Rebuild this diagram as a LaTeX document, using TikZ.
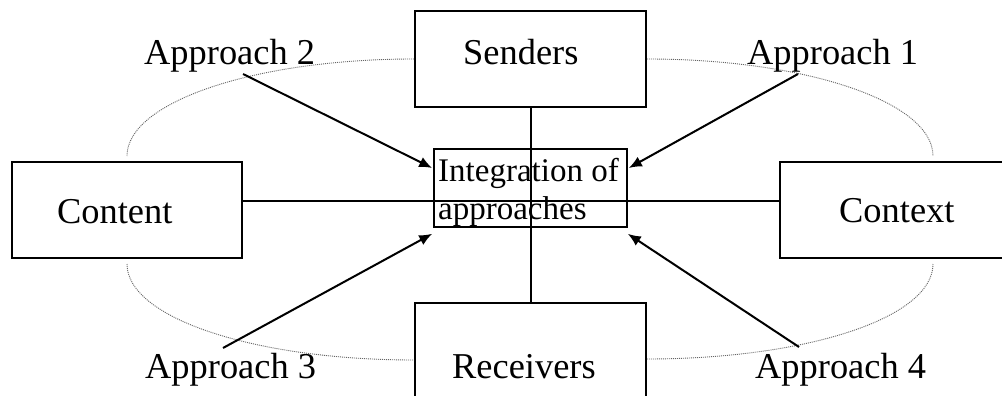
\documentclass[tikz,border=0pt]{standalone}
\usepackage{fontspec}
\setmainfont{Liberation Serif}
\usetikzlibrary{arrows.meta}
\begin{document}
\begin{tikzpicture}[x=1pt,y=-1pt,
  box/.style={draw=black, line width=2pt, fill=white, rectangle, inner sep=0pt},
  txt/.style={inner sep=0pt, anchor=base west, font=\fontsize{36.4}{40}\selectfont},
  itxt/.style={inner sep=0pt, anchor=base west, font=\fontsize{33}{38}\selectfont},
  orbit/.style={draw=black!60, line width=0.9pt, dash pattern=on 1pt off 1pt},
  link/.style={draw=black, line width=2pt},
  arr/.style={draw=black, line width=2pt, -{Latex[length=13pt,width=11pt]}}]
\useasboundingbox (0,0) rectangle (1002,396);
\clip (0,0) rectangle (1002,396);
% boxes
\node[box, minimum width=231pt, minimum height=96pt] (sen) at (530.5,59) {};
\node[box, minimum width=230pt, minimum height=96pt] (con) at (127,210) {};
\node[box, minimum width=306pt, minimum height=96pt] (ctx) at (933,210) {};
\node[box, minimum width=231pt, minimum height=96pt] (rec) at (530.5,351) {};
\node[draw=black, line width=1.6pt, rectangle, inner sep=0pt, minimum width=193pt, minimum height=78pt] (int) at (530.5,188) {};
% dotted orbit
\coordinate (ctop) at ([yshift=5pt]con.north);
\coordinate (cbot) at ([yshift=-5pt]con.south);
\coordinate (xtop) at ([yshift=5pt]ctx.north);
\coordinate (xbot) at ([yshift=-5pt]ctx.south);
\coordinate (rl) at ([yshift=-9pt]rec.west);
\coordinate (rr) at ([yshift=-8pt]rec.east);
\draw[orbit] (sen.west) .. controls +(-159,0) and +(0,-54) .. (ctop);
\draw[orbit] (sen.east) .. controls +(159,0) and +(0,-54) .. (xtop);
\draw[orbit] (cbot) .. controls +(0,54) and +(-159,0) .. (rl);
\draw[orbit] (xbot) .. controls +(0,54) and +(159,0) .. (rr);
% texts
\node[txt] (sent) at (463,65) {Senders};
\node[txt] (cont) at (57,223) {Content};
\node[txt] (ctxt) at (839,222) {Context};
\node[txt] (rect) at (452,378) {Receivers};
\node[itxt] (int1) at (438,181) {Integration of};
\node[itxt] (int2) at (438,219) {approaches};
\node[txt] (ap2) at (144,65) {Approach 2};
\node[txt] (ap1) at (747,65) {Approach 1};
\node[txt] (ap3) at (145,378) {Approach 3};
\node[txt] (ap4) at (755,378) {Approach 4};
% connectors
\draw[link] ([yshift=9pt]con.east) -- ([yshift=9pt]ctx.west);
\draw[link] (sen.south) -- (rec.north);
\coordinate (a2s) at (243,74);
\coordinate (a1s) at (798,74);
\coordinate (a3s) at (223,348);
\coordinate (a4s) at (799,347);
\coordinate (a2e) at ([xshift=-1pt,yshift=20pt]int.west);
\coordinate (a1e) at ([xshift=1pt,yshift=20pt]int.east);
\coordinate (a3e) at ([xshift=-1pt,yshift=-6pt]int.south west);
\coordinate (a4e) at ([yshift=-6pt]int.south east);
\draw[arr] (a2s) -- (a2e);
\draw[arr] (a1s) -- (a1e);
\draw[arr] (a3s) -- (a3e);
\draw[arr] (a4s) -- (a4e);
\end{tikzpicture}
\end{document}
